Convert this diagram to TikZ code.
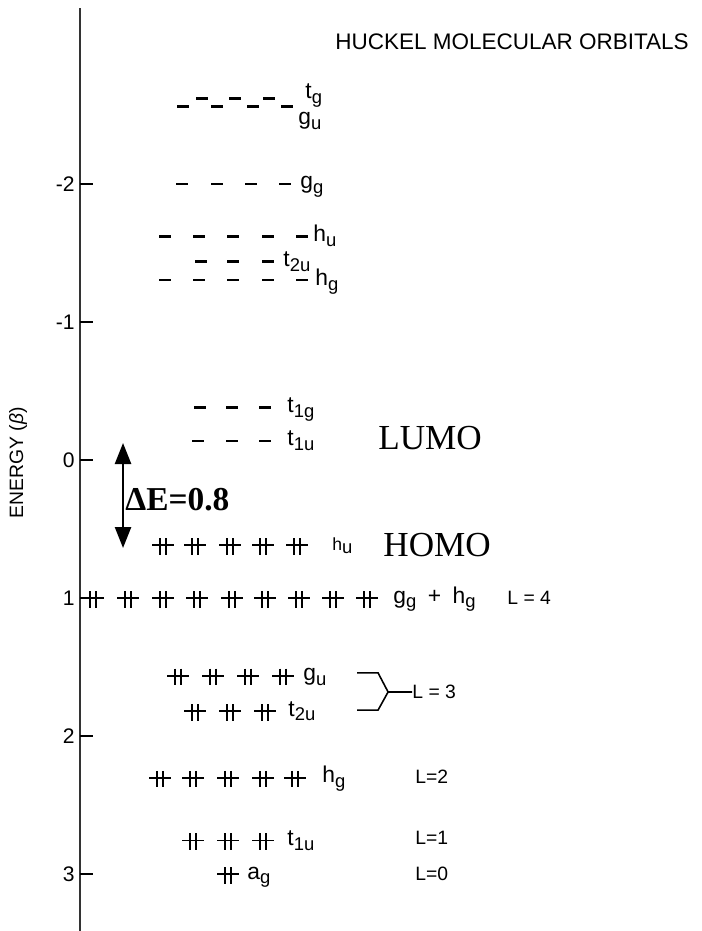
\documentclass[tikz,border=0pt]{standalone}
\usepackage{fontspec}
\setmainfont{Liberation Serif}
\setsansfont{Liberation Sans}
\usetikzlibrary{arrows.meta}

% orbital symbol with lowered subscript
\newcommand{\orb}[2]{#1\raisebox{-0.4ex}{\fontsize{10.5}{11}\selectfont #2}}

\tikzset{
  lvl/.style={line width=1.4pt},
  orblabel/.style={anchor=base west, inner sep=0pt, yshift=-0.1cm,
    font=\sffamily\fontsize{13}{15}\selectfont},
  lname/.style={anchor=west, inner sep=0pt,
    font=\sffamily\fontsize{11}{13}\selectfont},
  ticklabel/.style={anchor=east, inner sep=0pt,
    font=\sffamily\fontsize{12}{14}\selectfont},
  bigtext/.style={inner sep=0pt, font=\fontsize{20}{24}\selectfont},
  pairmark/.pic={
    \draw[line width=1.1pt] (-0.22cm,0) -- (0.22cm,0);
    \draw[line width=1.2pt] (-0.06cm,0.14cm) -- (-0.06cm,-0.19cm)
                            (0.06cm,0.14cm) -- (0.06cm,-0.19cm);
  }
}

% empty levels: energy, dash centres
\newcommand{\dashrow}[2]{\foreach \xx in {#2} \draw[lvl] (\xx-6,#1) -- (\xx+6,#1);}
% filled levels: energy, pair centres
\newcommand{\pairrow}[2]{\foreach \xx in {#2} \pic at (\xx,#1) {pairmark};}

\begin{document}
\begin{tikzpicture}[x=0.02cm, y=-2.76cm]
\useasboundingbox (0,-3.3333) rectangle (701,3.413);

% Energy axis
\draw[black!80, line width=1.1pt] (80,-3.275) -- (80,3.413);
\foreach \e in {-2,-1,0,1,2,3}
  \draw[line width=0.9pt] (80,\e) -- (93,\e);
\foreach \e/\txt in {-2/-2,-1/-1,0/0,1/1,2/2,3/3}
  \node[ticklabel] (tick\e) at (75,\e) {\txt};
\node[rotate=90, inner sep=0pt, font=\sffamily\fontsize{11}{13}\selectfont]
  (eaxis) at (18,0.02) {ENERGY ({\itshape β})};

% Title
\node[anchor=west, inner sep=0pt, font=\sffamily\fontsize{12.8}{15}\selectfont]
  (title) at (335,-3.03) {HUCKEL MOLECULAR ORBITALS};

% Antibonding (empty) levels
\dashrow{-2.618}{202,235,269}
\node[orblabel, yshift=0.1cm] (tg) at (305,-2.618) {\orb{t}{g}};
\dashrow{-2.562}{183,217,253,287}
\node[orblabel, yshift=-0.26cm] (gu1) at (298,-2.562) {\orb{g}{u}};
\dashrow{-2.0}{182,217,251,285}
\node[orblabel] (gg1) at (300,-2.0) {\orb{g}{g}};
\dashrow{-1.618}{165,199,233,268,302}
\node[orblabel] (hu1) at (313,-1.618) {\orb{h}{u}};
\dashrow{-1.438}{201,233,268}
\node[orblabel] (t2u1) at (283,-1.438) {\orb{t}{2u}};
\dashrow{-1.303}{165,199,233,268,302}
\node[orblabel] (hg1) at (315,-1.303) {\orb{h}{g}};
\dashrow{-0.382}{200,232,265}
\node[orblabel] (t1g) at (287,-0.382) {\orb{t}{1g}};
\dashrow{-0.139}{198,232,265}
\node[orblabel] (t1u1) at (287,-0.139) {\orb{t}{1u}};
\node[bigtext] (lumo) at (430,-0.16) {LUMO};

% HOMO-LUMO gap
\coordinate (gaptop) at (123,-0.123);
\coordinate (gapbot) at (123,0.638);
\draw[line width=1.4pt, {Triangle[length=0.42cm, width=0.32cm]}-{Triangle[length=0.42cm, width=0.32cm]}]
  (gaptop) -- (gapbot);
\node[anchor=west, inner sep=0pt, font=\bfseries\fontsize{19}{22}\selectfont]
  (gap) at (125,0.29) {ΔE=0.8};

% Bonding (filled) levels
\pairrow{0.618}{163,195,230,263,297}
\node[orblabel, font=\sffamily\fontsize{10}{12}\selectfont] (hu2) at (332,0.618) {\orb{h}{u}};
\node[bigtext] (homo) at (437,0.616) {HOMO};
\pairrow{1.0}{93,128,163,197,232,265,299,333,367}
\node[orblabel] (gghg) at (393,1.0) {\orb{g}{g}\enspace+\enspace\orb{h}{g}};
\node[lname] (L4) at (507,1.0) {L = 4};
\pairrow{1.562}{178,213,248,283}
\node[orblabel] (gu2) at (303,1.562) {\orb{g}{u}};
\pairrow{1.820}{195,230,265}
\node[orblabel] (t2u2) at (288,1.820) {\orb{t}{2u}};
\pairrow{2.303}{160,193,228,263,295}
\node[orblabel] (hg2) at (322,2.303) {\orb{h}{g}};
\pairrow{2.757}{193,228,263}
\node[orblabel] (t1u2) at (287,2.757) {\orb{t}{1u}};
\pairrow{3.0}{228}
\node[orblabel] (ag) at (247,3.0) {\orb{a}{g}};

% Shell labels
\coordinate (bru) at (357,1.543);
\coordinate (brl) at (357,1.812);
\coordinate (brm) at (388,1.681);
\node[lname] (L3) at (412,1.681) {L = 3};
\draw[line width=0.9pt] (bru) -- ++(21,0) -- (brm) -- (L3.west);
\draw[line width=0.9pt] (brl) -- ++(21,0) -- (brm);
\node[lname] (L2) at (415,2.296) {L=2};
\node[lname] (L1) at (415,2.74) {L=1};
\node[lname] (L0) at (415,3.0) {L=0};

\end{tikzpicture}
\end{document}
